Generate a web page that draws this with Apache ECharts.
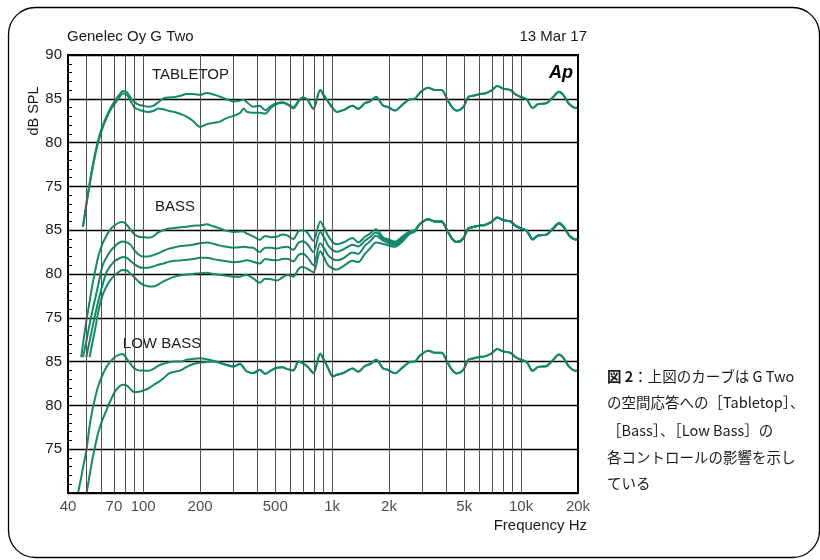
<!DOCTYPE html>
<html><head><meta charset="utf-8">
<script src="https://cdn.jsdelivr.net/npm/echarts@6/dist/echarts.min.js"></script>
<style>html,body{margin:0;padding:0;background:#fff}#c{width:820px;height:560px}</style>
</head><body><div id="c"></div>
<script>
// ---------- DATA ----------
const freqHz = [45,47,48,50,52,54,56,58,61,64,
  67,71,75,78,82,86,90,95,100,106,
  113,120,128,137,147,158,170,183,200,217,
  235,255,276,300,326,340,354,382,414,442,
  476,510,545,580,622,665,700,740,795,865,
  910,950,1010,1060,1145,1283,1374,1490,1585,1705,
  1864,1956,2148,2376,2580,2741,2913,3222,3497,3795,
  4035,4288,4557,4938,5250,5578,6053,6430,6980,7475,
  8040,8797,9270,9860,10700,11510,12310,13640,14780,15850,
  16700,17980,19500,20000];

// response above ~2.9 kHz is common to every curve
const sharedHighFreq = [85.7,86.25,86.0,86.0,85.1,84.1,83.65,84.05,85.2,85.35,
  85.55,85.6,85.95,86.45,86.15,86.0,85.55,85.25,84.95,83.95,
  84.4,84.5,85.2,85.8,85.45,84.4,83.95,84.0];

const tabletopFlat = [null,null,70.4,73.0,75.3,77.3,79.0,80.4,81.9,83.0,
  83.9,84.8,85.5,85.9,85.75,85.1,84.6,84.3,84.2,84.1,
  84.2,84.6,85.05,85.15,85.2,85.35,85.55,85.55,85.45,85.65,
  85.5,85.25,84.95,84.7,84.8,84.9,84.6,84.1,84.2,83.7,
  84.2,84.5,84.6,84.4,84.05,84.8,85.15,84.9,83.85,86.0,
  85.3,84.7,83.9,83.5,83.7,84.2,83.85,84.5,84.7,85.2,
  84.2,84.1,83.66,84.4,84.95,85.0, ...sharedHighFreq];

const tabletopCut = [null,null,70.4,72.9,75.1,77.1,78.8,80.2,81.7,82.8,
  83.7,84.5,85.2,85.6,85.45,84.7,84.0,83.75,83.6,83.5,
  83.6,83.9,83.8,83.6,83.5,83.25,82.95,82.5,81.8,82.1,
  82.25,82.4,82.8,83.05,83.4,83.9,83.5,83.4,83.4,83.3,
  84.0,84.4,84.55,84.35,83.9,84.7,85.15,84.9,83.85,86.0,
  85.3,84.7,83.9,83.5,83.7,84.2,83.85,84.5,84.7,85.2,
  84.2,84.1,83.66,84.4,84.95,85.0, ...sharedHighFreq];

const bass1 = [null,70.5,72.0,74.6,76.8,78.9,80.6,82.1,83.5,84.4,
  85.1,85.6,85.9,85.95,85.6,85.0,84.5,84.25,84.2,84.15,
  84.3,84.75,85.0,85.2,85.25,85.35,85.4,85.5,85.55,85.67,
  85.45,85.2,84.92,84.8,84.85,84.85,84.6,84.3,83.9,84.35,
  84.2,84.25,84.5,84.4,84.0,84.9,85.0,84.7,83.8,86.0,
  85.2,84.4,83.6,83.4,83.6,84.1,83.6,84.25,84.6,85.1,
  84.17,84.0,83.7,84.36,84.9,85.0, ...sharedHighFreq];

const bass2 = [null,null,70.5,72.3,74.2,75.9,77.4,78.9,81.0,81.9,
  82.6,83.2,83.6,83.72,83.6,83.3,82.7,82.2,82.0,82.0,
  82.15,82.35,82.65,82.9,83.05,83.2,83.25,83.35,83.5,83.6,
  83.45,83.24,83.1,83.0,83.05,83.1,83.05,83.0,82.5,83.0,
  83.0,82.9,83.05,83.1,82.76,83.6,83.75,83.4,82.5,84.8,
  84.1,83.3,82.7,82.55,82.8,83.35,83.13,83.8,84.2,84.73,
  84.0,83.85,83.5,84.2,84.8,85.0, ...sharedHighFreq];

const bass3 = [null,null,null,70.5,72.3,74.0,75.6,77.0,78.8,80.2,
  80.9,81.5,81.8,81.93,81.85,81.45,81.1,80.8,80.7,80.72,
  80.85,81.05,81.2,81.4,81.5,81.55,81.64,81.7,81.86,81.86,
  81.7,81.56,81.45,81.35,81.4,81.5,81.56,81.4,81.2,81.7,
  81.6,81.56,81.7,81.75,81.45,82.2,82.3,81.9,81.0,83.5,
  82.9,82.15,81.7,81.56,81.8,82.45,82.3,83.24,83.7,84.36,
  83.8,83.6,83.3,84.0,84.7,84.95, ...sharedHighFreq];

const bass4 = [null,null,null,null,70.5,72.3,74.0,75.8,77.6,78.6,
  79.3,79.9,80.3,80.45,80.4,80.0,79.6,79.1,78.76,78.6,
  78.57,78.8,79.15,79.45,79.7,79.85,79.95,80.0,80.1,80.14,
  80.0,79.9,79.8,79.7,79.7,79.85,79.9,79.5,79.0,79.45,
  79.4,79.25,79.6,79.88,79.7,80.6,80.8,80.6,80.2,82.6,
  81.8,81.0,80.6,80.5,80.9,81.5,81.37,82.3,82.9,83.6,
  83.43,83.3,83.1,83.8,84.6,84.85, ...sharedHighFreq];

const lowBassFlat = [69.8,71.8,72.9,74.8,77.6,79.6,81.1,82.3,83.5,84.4,
  85.0,85.56,85.8,85.87,85.3,84.7,84.2,84.0,83.97,83.95,
  84.15,84.5,84.75,84.93,85.0,85.0,85.2,85.3,85.38,85.27,
  85.1,84.9,84.63,84.44,84.74,84.3,83.87,83.69,84.06,83.6,
  84.0,84.3,84.35,84.14,83.99,85.0,84.8,84.44,83.7,85.9,
  85.1,84.3,83.3,83.5,83.7,84.2,83.85,84.5,84.7,85.2,
  84.2,84.1,83.66,84.4,84.95,85.0, ...sharedHighFreq];

const lowBassCut = [null,null,67.5,69.8,72.0,74.0,75.6,77.0,78.4,79.5,
  80.5,81.6,82.2,82.37,82.25,81.8,81.5,81.55,81.7,81.9,
  82.3,82.65,83.1,83.65,83.85,84.0,84.4,84.7,84.9,84.95,
  85.0,84.85,84.6,84.44,84.74,84.3,83.87,83.69,84.06,83.6,
  84.0,84.3,84.35,84.14,83.99,85.0,84.8,84.44,83.7,85.9,
  85.1,84.3,83.3,83.5,83.7,84.2,83.85,84.5,84.7,85.2,
  84.2,84.1,83.66,84.4,84.95,85.0, ...sharedHighFreq];

// each panel is drawn shifted down on one shared dB axis
const panelNames = ['TABLETOP', 'BASS', 'LOW BASS'];
const panelShiftDb = [0, 15, 30];
const panelCurves = [[tabletopFlat, tabletopCut], [bass1, bass2, bass3, bass4], [lowBassFlat, lowBassCut]];

const gridFreqs = [50,60,70,80,90,100,200,300,400,500,600,700,800,900,
  1000,2000,3000,4000,5000,6000,7000,8000,9000,10000];
const xTickValues = [40,70,100,200,500,1000,2000,5000,10000,20000];
const xTickLabels = ['40','70','100','200','500','1k','2k','5k','10k','20k'];

const captionLines = ['{b|図 2}{n|：上図のカーブは G Two}',
  'の空間応答への［Tabletop］、',
  '［Bass］、［Low Bass］の',
  '各コントロールの影響を示し',
  'ている'];

// ---------- CHART ----------
const GREEN = '#14896a';
const FONT = '"Liberation Sans", Arial, Helvetica, sans-serif';
const CJK = '"Noto Sans CJK JP", "Liberation Sans", sans-serif';
const INK = '#1a1a1a';

function yLabel(v) {
  if (v <= 40) return '';
  if (v >= 75) return String(v);
  if (v >= 60) return String(v + 15);
  return String(v + 30);
}

const series = [];
series.push({
  type: 'line', data: [], silent: true, z: 1,
  markLine: {
    silent: true, symbol: ['none', 'none'], label: { show: false },
    lineStyle: { color: '#505050', width: 1, type: 'solid' },
    emphasis: { disabled: true },
    data: gridFreqs.map(f => ({ xAxis: f }))
  }
});
panelCurves.forEach((curves, p) => {
  curves.forEach(vals => {
    const d = [];
    for (let i = 0; i < freqHz.length; i++) {
      if (vals[i] != null) d.push([freqHz[i], vals[i] - panelShiftDb[p]]);
    }
    series.push({
      type: 'line', data: d, showSymbol: false, smooth: 0.3, clip: true, silent: true, z: 3,
      lineStyle: { color: GREEN, width: 2 }, itemStyle: { color: GREEN }
    });
  });
});
series.push({
  type: 'scatter', silent: true, clip: false, symbolSize: 0, z: 4,
  data: xTickValues.map((f, i) => ({ value: [f, 40], label: { formatter: xTickLabels[i] } })),
  label: { show: true, position: 'bottom', distance: 6, fontSize: 15, color: INK, fontFamily: FONT }
});

const graphics = [
  { type: 'rect', shape: { x: 8.5, y: 7.5, width: 811, height: 550, r: 27 },
    style: { fill: 'none', stroke: '#000', lineWidth: 1.3 }, silent: true },
  { type: 'text', x: 67, y: 37, style: { text: 'Genelec Oy G Two', fill: INK, font: '15px ' + FONT, align: 'left', verticalAlign: 'middle' } },
  { type: 'text', x: 587, y: 37, style: { text: '13 Mar 17', fill: INK, font: '15px ' + FONT, align: 'right', verticalAlign: 'middle' } },
  { type: 'text', x: 573, y: 73, z: 10, style: { text: 'Ap', fill: '#000', font: 'italic bold 18px ' + FONT, align: 'right', verticalAlign: 'middle' } },
  { type: 'text', x: 34, y: 111, rotation: Math.PI / 2, style: { text: 'dB SPL', fill: INK, font: '14.5px ' + FONT, align: 'center', verticalAlign: 'middle' } },
  { type: 'text', x: 587, y: 526, style: { text: 'Frequency Hz', fill: INK, font: '15px ' + FONT, align: 'right', verticalAlign: 'middle' } }
];
const panelLabelPos = [[190.5, 75], [175, 207], [162, 344]];
const panelLabelPad = [[6, 4], [4, 3], [4, 4]];
panelNames.forEach((n, i) => {
  graphics.push({ type: 'text', x: panelLabelPos[i][0], y: panelLabelPos[i][1], z: 2,
    style: { text: n, fill: INK, font: '15px ' + FONT, align: 'center', verticalAlign: 'middle',
      backgroundColor: '#fff', padding: panelLabelPad[i] } });
});
const captionY = [376, 402, 430, 457, 483];
captionLines.forEach((t, i) => {
  graphics.push({ type: 'text', x: 607, y: captionY[i],
    style: { text: t, fill: INK, font: '14.5px ' + CJK, align: 'left', verticalAlign: 'middle',
      rich: { b: { font: 'bold 14.5px ' + CJK, fill: INK }, n: { font: '14.5px ' + CJK, fill: INK } } } });
});

const chart = echarts.init(document.getElementById('c'), null, { renderer: 'canvas' });
chart.setOption({
  animation: false,
  backgroundColor: '#fff',
  grid: { left: 68, right: 242, top: 55, bottom: 67, show: true, borderColor: '#000', borderWidth: 2, backgroundColor: 'transparent', z: 5 },
  xAxis: {
    type: 'log', logBase: 10, min: 40, max: 20000,
    axisLine: { show: false }, axisTick: { show: false }, axisLabel: { show: false },
    splitLine: { show: false }, minorTick: { show: false }, minorSplitLine: { show: false }
  },
  yAxis: {
    type: 'value', min: 40, max: 90, interval: 5,
    axisLine: { show: false },
    axisTick: { show: true, inside: true, length: 4, lineStyle: { color: '#000', width: 1 } },
    minorTick: { show: true, splitNumber: 5, length: 4, lineStyle: { color: '#000', width: 1 } },
    axisLabel: { formatter: yLabel, fontSize: 15, color: INK, fontFamily: FONT, margin: 6 },
    splitLine: { show: true, lineStyle: { color: '#000', width: 1.4 } }
  },
  series: series,
  graphic: graphics
});
</script>
</body></html>
